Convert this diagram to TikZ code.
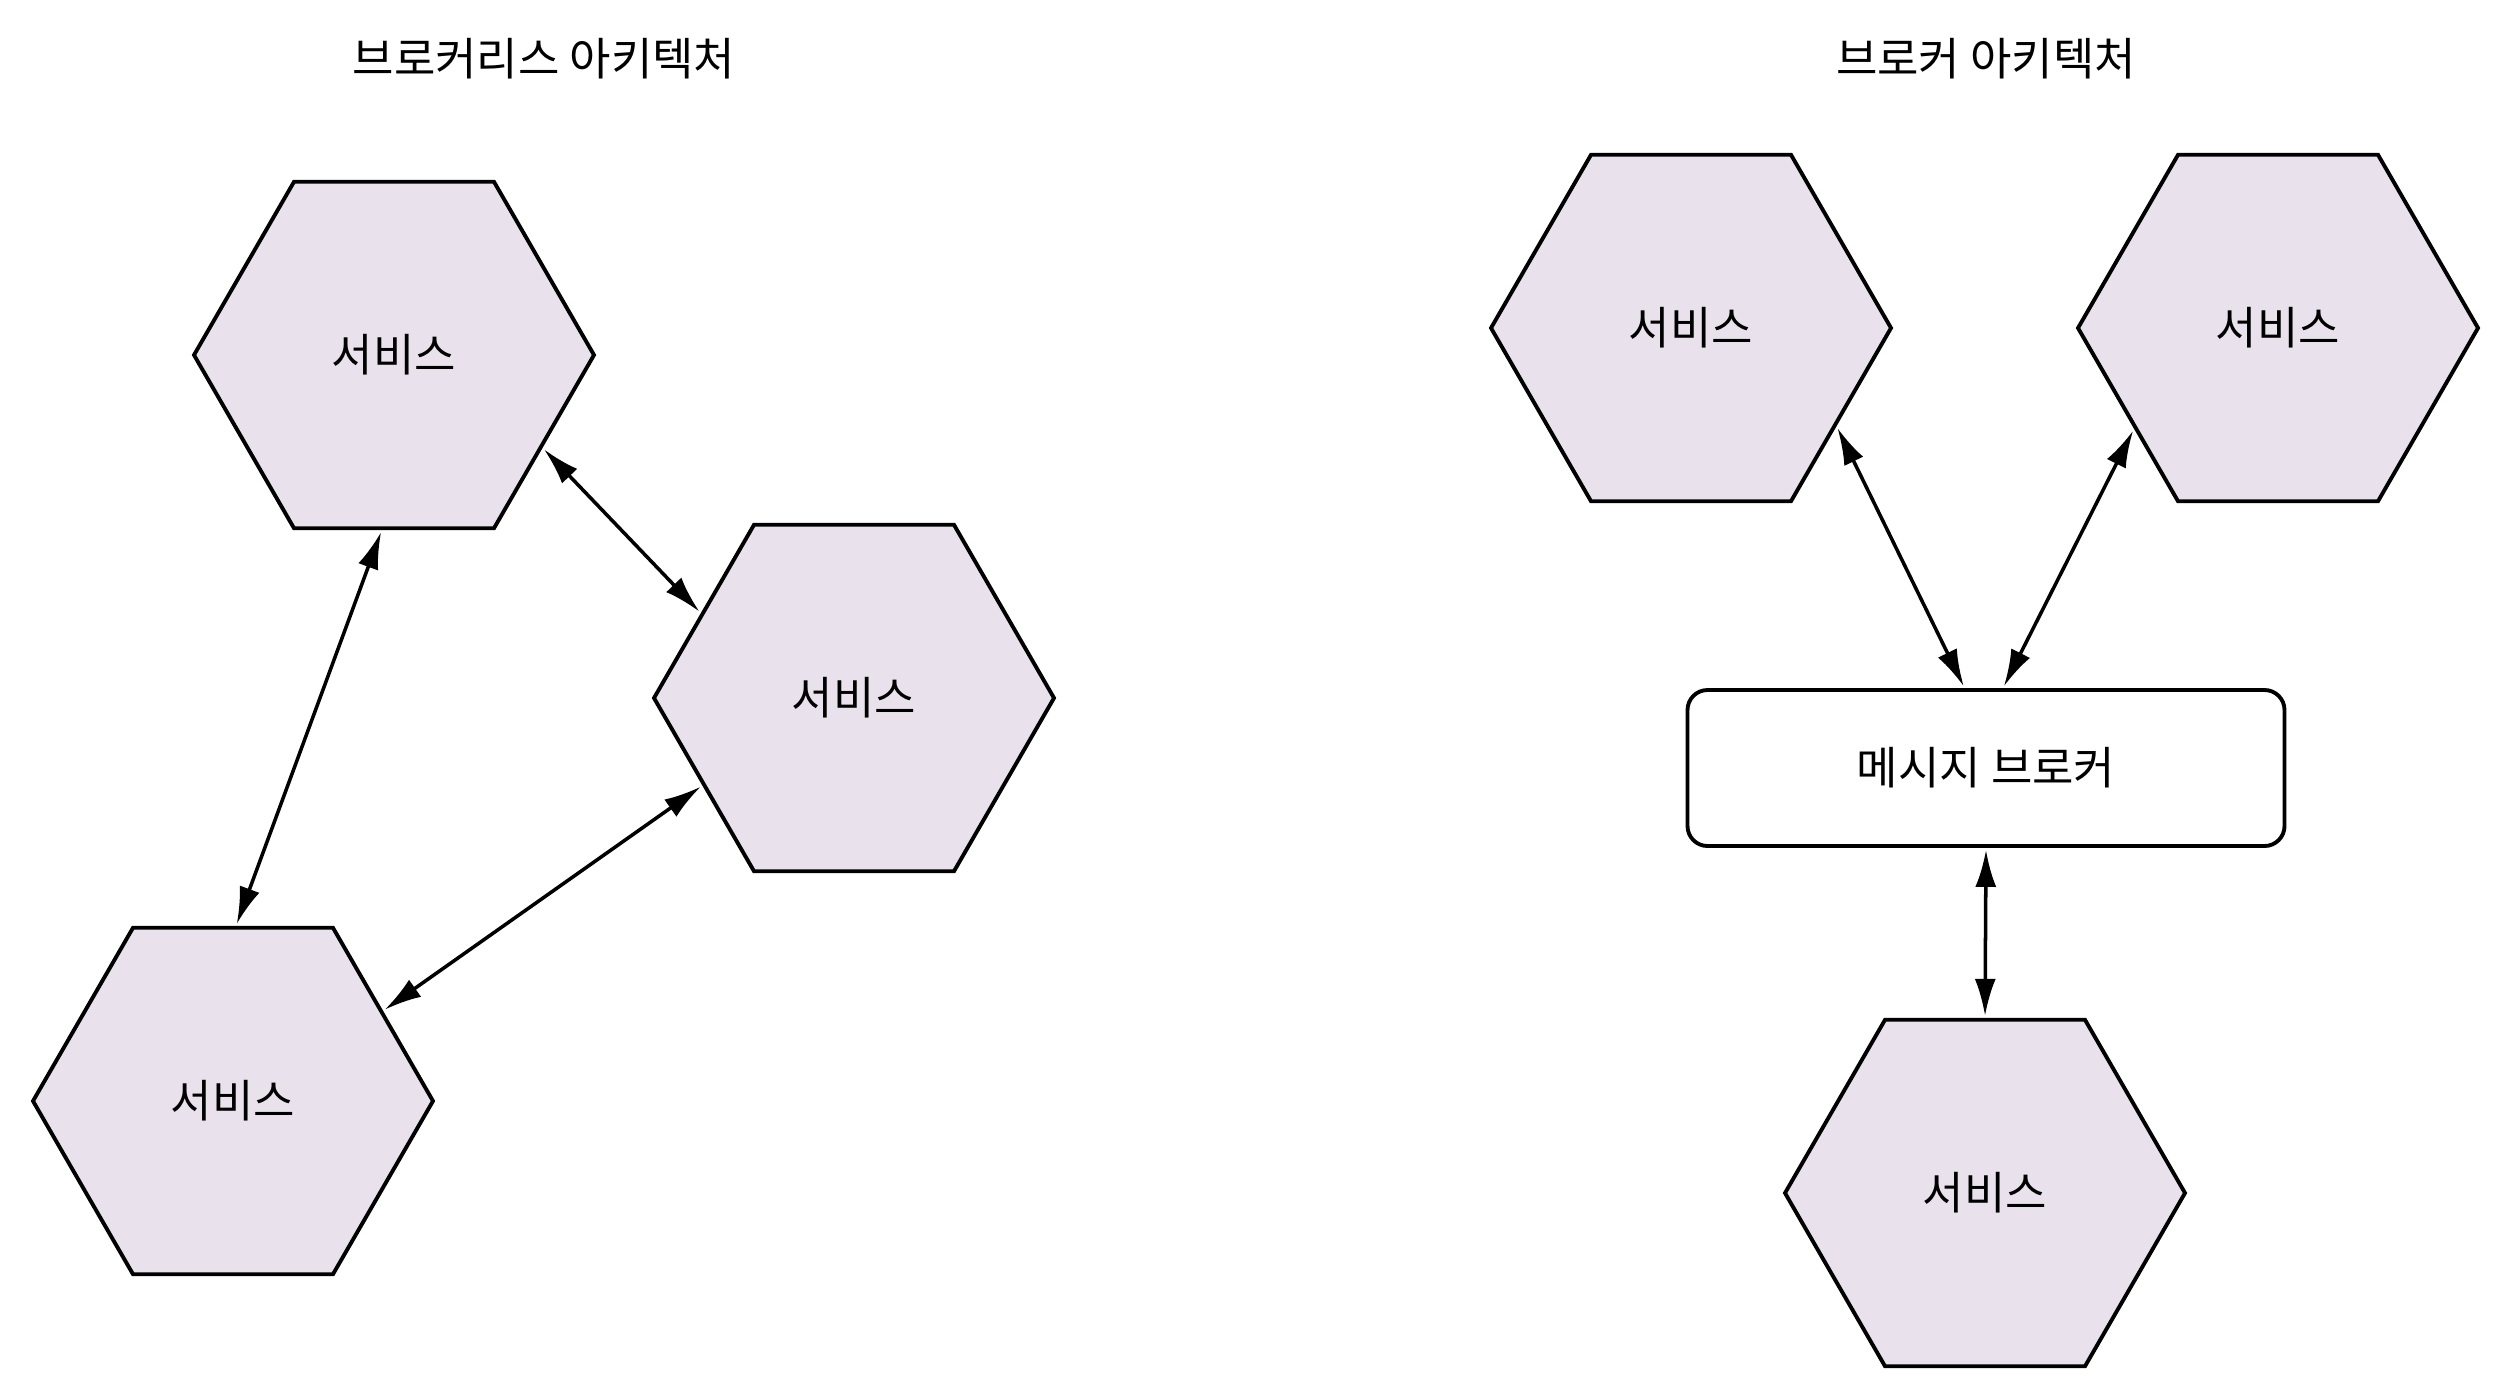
\documentclass[tikz,border=0pt]{standalone}
\usepackage{fontspec}
\setmainfont{Noto Sans CJK KR}
\usepackage{tikz}
\usetikzlibrary{shapes.geometric, arrows.meta}
\definecolor{hexfill}{RGB}{233,225,236}

\begin{document}
\begin{tikzpicture}[baseline, inner sep=1mm, >={Latex[length=0.37cm,width=0.21cm]},
  svc/.style={regular polygon, regular polygon sides=6, minimum size=4cm, inner sep=0pt,
    draw=black, line width=1.1pt, fill=hexfill, font=\fontsize{12.8}{15}\selectfont},
  link/.style={<->, line width=1pt, shorten >=0.02cm, shorten <=0.02cm}]
\useasboundingbox (0,0) rectangle (25,-13.82);
\node (t1) at (5.44,-0.59) [font=\fontsize{12.8}{15}\selectfont] {브로커리스 아키텍처};
\node (t2) at (19.86,-0.59) [font=\fontsize{12.8}{15}\selectfont] {브로커 아키텍처};
% brokerless
\node (sa) at (3.94,-3.55) [svc] {서비스};
\node (sb) at (8.54,-6.98) [svc] {서비스};
\node (sc) at (2.33,-11.01) [svc] {서비스};
% broker
\node (sd) at (16.91,-3.28) [svc] {서비스};
\node (se) at (22.78,-3.28) [svc] {서비스};
\node (br) at (19.86,-7.68) [rectangle, rounded corners=0.2cm, draw=black, line width=1.1pt,
  minimum width=5.97cm, minimum height=1.56cm, font=\fontsize{12.8}{15}\selectfont] {메시지 브로커};
\node (sf) at (19.85,-11.93) [svc] {서비스};
\draw[link] (sa.-32) -- (sb.151);
\draw[link] (sa.266) -- (sc.89);
\draw[link] (sb.210) -- (sc.31);
\draw[link] (sd.-34) -- (br.105);
\draw[link] (se.215) -- (br.78);
\draw[link] (br.south) -- (sf.north);
\end{tikzpicture}
\end{document}
